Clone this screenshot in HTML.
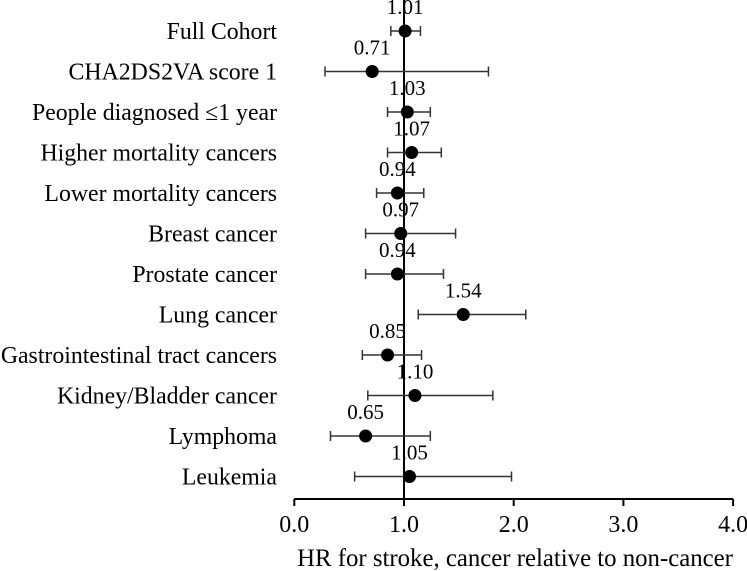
<!DOCTYPE html>
<html><head><meta charset="utf-8"><style>
html,body{margin:0;padding:0;background:#fff;}
svg{display:block;font-family:"Liberation Serif",serif;}
</style></head><body>
<svg id="chart" width="747" height="571"></svg>
<script>
const categories=["Full Cohort","CHA2DS2VA score 1","People diagnosed \u22641 year","Higher mortality cancers","Lower mortality cancers","Breast cancer","Prostate cancer","Lung cancer","Gastrointestinal tract cancers","Kidney/Bladder cancer","Lymphoma","Leukemia"];
const hr=[1.01,0.71,1.03,1.07,0.94,0.97,0.94,1.54,0.85,1.10,0.65,1.05];
const lower=[0.88,0.28,0.85,0.85,0.75,0.65,0.65,1.13,0.62,0.67,0.33,0.55];
const upper=[1.15,1.77,1.24,1.34,1.18,1.47,1.36,2.11,1.16,1.81,1.24,1.98];
const ticks=[0,1,2,3,4];
const NS="http://www.w3.org/2000/svg";
const svg=document.getElementById('chart');
const X=v=>294.3+v*109.7;
const Y=i=>31+i*40.5;
const axisY=499;
function mk(t,a,p){const e=document.createElementNS(NS,t);for(const k in a)e.setAttribute(k,a[k]);(p||svg).appendChild(e);return e;}
let g;
g=mk('line',{x1:X(1),x2:X(1),y1:0,y2:axisY,stroke:'#000','stroke-width':2});


g=mk('line',{x1:X(0),x2:X(4),y1:axisY,y2:axisY,stroke:'#000','stroke-width':2});


ticks.forEach(t=>{
  let l=mk('line',{x1:X(t),x2:X(t),y1:axisY,y2:axisY+7,stroke:'#000','stroke-width':2});
  
  
  let tx=mk('text',{x:X(t),y:axisY+33,'text-anchor':'middle','font-size':24});
  tx.textContent=t.toFixed(1);
  
  
});
let at=mk('text',{x:515,y:566,'text-anchor':'middle','font-size':24.8});
at.textContent="HR for stroke, cancer relative to non-cancer";


categories.forEach((c,i)=>{
  const y=Y(i);
  let lab=mk('text',{x:277,y:y+8,'text-anchor':'end','font-size':23.8});
  lab.textContent=c;
  
  
  let ci=mk('path',{d:`M${X(lower[i])},${y}H${X(upper[i])}M${X(lower[i])},${y-5}V${y+5}M${X(upper[i])},${y-5}V${y+5}`,stroke:'#333','stroke-width':1.5,fill:'none'});
  
  
  let d=mk('circle',{cx:X(hr[i]),cy:y,r:6.5,fill:'#000'});
  
  
  let v=mk('text',{x:X(hr[i]),y:y-17,'text-anchor':'middle','font-size':21});
  v.textContent=hr[i].toFixed(2);
  
  
});
</script>
</body></html>
